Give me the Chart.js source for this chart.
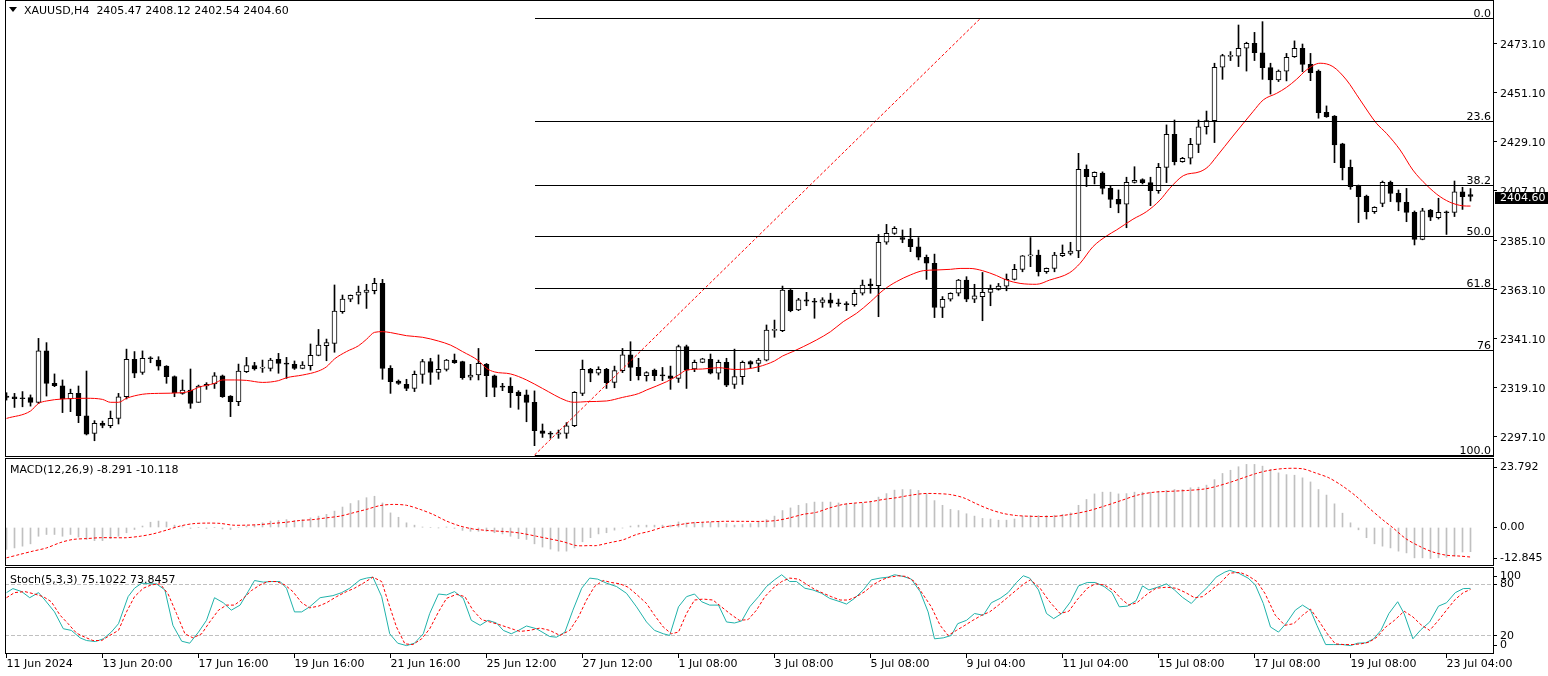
<!DOCTYPE html>
<html lang="en">
<head>
<meta charset="UTF-8">
<title>XAUUSD,H4</title>
<script src="https://cdn.jsdelivr.net/npm/chart.js"></script>
<style>
    body {
        margin: 0;
        background: #fff;
        font-family: "DejaVu Sans", sans-serif;
    }
    #wrap {
        position: relative;
        width: 1548px;
        height: 676px;
        overflow: hidden;
    }
    .pane {
        position: absolute;
        left: 5px;
    }
    .label {
        position: absolute;
        font-size: 11px;
        line-height: 13px;
        color: #000;
        white-space: pre;
    }
    #tri {
        position: absolute;
        left: 9px;
        top: 7px;
        width: 0;
        height: 0;
        border-left: 4px solid transparent;
        border-right: 4px solid transparent;
        border-top: 5px solid #000;
    }
</style>
</head>
<body>
<div id="wrap">
    <canvas id="priceCanvas" class="pane" width="1543" height="457" style="top:0px"></canvas>
    <canvas id="macdCanvas" class="pane" width="1543" height="108" style="top:458px"></canvas>
    <canvas id="stochCanvas" class="pane" width="1543" height="109" style="top:567px"></canvas>
    <div id="tri"></div>
    <div class="label" style="left:24px;top:4px">XAUUSD,H4  2405.47 2408.12 2402.54 2404.60</div>
    <div class="label" style="left:10px;top:463px">MACD(12,26,9) -8.291 -10.118</div>
    <div class="label" style="left:10px;top:573px">Stoch(5,3,3) 75.1022 73.8457</div>
</div>

<script>
// H4 candles (index 0 = first visible bar)
const opens = [
    2315.3, 2314.9, 2314.4, 2314.6, 2312.5, 2335.5, 2321.0, 2319.9, 2314.0, 2316.5,
    2306.5, 2298.6, 2303.1, 2302.0, 2305.3, 2315.0, 2331.7, 2325.9, 2332.2, 2331.4,
    2328.7, 2324.0, 2316.5, 2318.0, 2312.5, 2319.8, 2320.7, 2324.3, 2315.3, 2312.8,
    2326.2, 2328.9, 2327.8, 2327.7, 2331.7, 2329.9, 2329.5, 2327.7, 2328.9, 2333.5,
    2337.8, 2338.9, 2353.0, 2358.6, 2360.4, 2361.7, 2362.4, 2365.7, 2327.7, 2322.0,
    2320.5, 2318.7, 2325.0, 2330.7, 2325.9, 2327.2, 2331.4, 2330.7, 2323.7, 2324.7,
    2329.5, 2324.4, 2319.6, 2319.8, 2317.1, 2315.8, 2312.5, 2299.7, 2298.6, 2298.3,
    2298.6, 2302.0, 2316.5, 2327.2, 2325.5, 2327.2, 2321.4, 2326.7, 2333.7, 2328.1,
    2324.4, 2326.9, 2324.6, 2324.3, 2323.2, 2337.4, 2327.4, 2330.4, 2331.7, 2325.5,
    2330.4, 2320.5, 2324.0, 2330.7, 2329.9, 2331.4, 2344.7, 2344.5, 2362.7, 2353.8,
    2358.3, 2357.8, 2357.2, 2358.3, 2356.9, 2356.5, 2356.2, 2361.3, 2365.4, 2364.7,
    2384.1, 2388.1, 2386.2, 2385.5, 2382.1, 2377.4, 2374.7, 2355.0, 2358.6, 2361.3,
    2367.2, 2358.6, 2359.8, 2361.7, 2363.0, 2364.5, 2367.5, 2372.0, 2378.0, 2378.4,
    2370.9, 2372.4, 2378.1, 2379.1, 2380.2, 2416.7, 2413.5, 2415.0, 2408.2, 2403.3,
    2401.1, 2410.9, 2412.2, 2410.8, 2407.2, 2417.6, 2432.4, 2420.2, 2421.7, 2427.9,
    2435.8, 2438.5, 2462.4, 2467.3, 2467.4, 2470.9, 2473.1, 2468.9, 2462.2, 2456.7,
    2460.7, 2467.1, 2470.9, 2463.7, 2460.7, 2442.2, 2440.6, 2428.1, 2417.6, 2409.3,
    2404.8, 2397.8, 2401.5, 2410.9, 2406.0, 2402.0, 2397.5, 2385.4, 2398.5, 2395.1,
    2397.6, 2397.5, 2406.7, 2405.47
];
const highs = [
    2316.8, 2316.5, 2317.3, 2315.8, 2341.1, 2339.2, 2325.2, 2322.5, 2318.4, 2319.8,
    2326.5, 2304.3, 2304.1, 2308.6, 2316.5, 2336.3, 2335.2, 2335.5, 2332.9, 2332.9,
    2328.9, 2324.3, 2322.5, 2327.4, 2320.2, 2321.3, 2325.8, 2324.7, 2315.5, 2329.6,
    2332.6, 2330.4, 2331.4, 2332.2, 2334.4, 2332.6, 2331.0, 2330.7, 2338.6, 2345.1,
    2340.8, 2365.0, 2360.5, 2360.5, 2364.5, 2365.3, 2368.0, 2367.5, 2328.9, 2322.5,
    2322.8, 2326.5, 2331.7, 2332.2, 2333.7, 2331.7, 2334.1, 2330.9, 2329.5, 2336.6,
    2329.9, 2324.7, 2321.0, 2323.5, 2317.7, 2318.0, 2317.6, 2302.8, 2299.4, 2300.1,
    2303.4, 2317.3, 2331.4, 2327.7, 2328.4, 2327.7, 2328.7, 2336.6, 2339.6, 2332.2,
    2326.2, 2327.4, 2328.1, 2328.7, 2338.1, 2338.1, 2331.4, 2332.2, 2334.1, 2331.4,
    2332.2, 2336.3, 2331.0, 2331.1, 2332.2, 2347.1, 2349.3, 2364.5, 2363.0, 2359.0,
    2361.7, 2359.0, 2359.3, 2361.3, 2358.7, 2357.5, 2362.7, 2367.2, 2367.7, 2387.6,
    2392.1, 2391.1, 2389.6, 2390.3, 2386.2, 2378.4, 2378.8, 2359.8, 2361.5, 2367.5,
    2368.7, 2365.3, 2370.6, 2365.0, 2365.7, 2369.9, 2374.2, 2378.2, 2386.2, 2380.6,
    2372.6, 2379.6, 2382.9, 2384.1, 2423.9, 2418.7, 2415.6, 2415.6, 2409.4, 2407.5,
    2413.2, 2417.9, 2412.5, 2413.2, 2419.4, 2436.6, 2438.8, 2422.1, 2430.6, 2438.8,
    2442.8, 2464.2, 2468.2, 2469.4, 2481.3, 2473.6, 2478.0, 2482.8, 2464.2, 2461.2,
    2468.6, 2474.2, 2472.8, 2468.6, 2461.2, 2445.1, 2440.8, 2428.4, 2420.9, 2409.7,
    2405.2, 2400.0, 2411.5, 2411.5, 2407.5, 2408.2, 2398.1, 2399.3, 2398.8, 2403.8,
    2398.1, 2411.5, 2408.7, 2408.12
];
const lows = [
    2313.5, 2310.2, 2310.5, 2310.8, 2312.0, 2315.3, 2319.5, 2307.9, 2308.3, 2303.4,
    2297.9, 2295.3, 2301.1, 2301.1, 2302.8, 2314.0, 2323.5, 2325.0, 2330.2, 2326.9,
    2321.0, 2315.0, 2316.1, 2309.8, 2312.5, 2318.3, 2318.7, 2314.7, 2306.1, 2311.0,
    2325.8, 2326.9, 2325.9, 2326.5, 2325.5, 2323.2, 2327.2, 2327.5, 2326.9, 2333.3,
    2331.1, 2334.9, 2352.3, 2357.5, 2356.5, 2354.5, 2361.0, 2322.8, 2316.5, 2320.5,
    2317.7, 2317.3, 2321.0, 2320.5, 2322.8, 2326.5, 2329.9, 2322.8, 2322.5, 2322.5,
    2315.0, 2315.0, 2317.7, 2310.2, 2309.4, 2303.8, 2293.1, 2296.8, 2296.4, 2296.4,
    2296.4, 2301.6, 2315.5, 2321.7, 2324.7, 2318.7, 2319.0, 2325.8, 2322.2, 2322.5,
    2322.0, 2322.2, 2322.2, 2318.3, 2321.4, 2318.7, 2326.2, 2330.2, 2325.2, 2322.8,
    2319.5, 2318.7, 2320.5, 2328.0, 2326.2, 2331.0, 2341.6, 2344.1, 2353.0, 2353.5,
    2355.7, 2350.1, 2355.0, 2355.0, 2355.5, 2353.5, 2355.5, 2360.5, 2361.3, 2350.8,
    2383.2, 2387.6, 2383.9, 2379.9, 2376.2, 2367.5, 2350.4, 2350.4, 2357.8, 2360.1,
    2357.5, 2357.1, 2349.0, 2355.7, 2362.7, 2362.4, 2367.2, 2370.9, 2373.2, 2369.0,
    2370.2, 2370.9, 2377.7, 2378.4, 2377.2, 2409.0, 2410.2, 2405.7, 2399.6, 2397.3,
    2390.6, 2410.6, 2410.2, 2400.5, 2406.0, 2410.8, 2418.7, 2419.9, 2419.1, 2424.2,
    2432.5, 2428.7, 2457.0, 2465.4, 2462.7, 2460.7, 2465.4, 2457.0, 2450.4, 2456.0,
    2456.3, 2466.8, 2460.4, 2456.4, 2439.6, 2440.0, 2419.7, 2412.0, 2407.8, 2392.9,
    2394.5, 2397.0, 2400.0, 2402.3, 2398.2, 2393.3, 2382.9, 2385.2, 2393.8, 2394.5,
    2387.6, 2395.6, 2398.8, 2402.54
];
const closes = [
    2314.7, 2314.1, 2314.1, 2312.5, 2335.5, 2321.0, 2319.9, 2314.0, 2316.5, 2306.5,
    2298.3, 2303.1, 2302.2, 2305.3, 2315.0, 2331.7, 2325.5, 2332.2, 2332.0, 2328.7,
    2324.0, 2316.8, 2318.0, 2312.0, 2319.8, 2320.5, 2324.3, 2315.0, 2312.8, 2326.5,
    2328.9, 2327.4, 2328.0, 2331.4, 2329.9, 2329.6, 2327.7, 2329.2, 2333.5, 2338.1,
    2339.2, 2353.3, 2358.7, 2360.4, 2361.8, 2362.7, 2365.7, 2327.7, 2321.7, 2321.0,
    2318.7, 2325.0, 2330.7, 2325.9, 2327.2, 2331.4, 2330.2, 2323.5, 2324.7, 2329.9,
    2324.4, 2319.2, 2319.3, 2316.8, 2315.5, 2312.5, 2299.8, 2298.6, 2298.3, 2298.8,
    2302.0, 2317.0, 2327.2, 2325.5, 2327.2, 2321.3, 2326.7, 2333.7, 2328.1, 2324.4,
    2325.8, 2324.4, 2324.3, 2323.2, 2337.4, 2326.9, 2330.4, 2331.9, 2325.5, 2330.4,
    2320.2, 2324.0, 2330.4, 2329.6, 2331.4, 2344.8, 2345.0, 2362.7, 2353.5, 2358.3,
    2357.8, 2357.3, 2358.3, 2356.8, 2356.6, 2356.2, 2361.3, 2365.0, 2364.7, 2384.1,
    2388.1, 2390.3, 2385.4, 2382.1, 2377.4, 2374.7, 2355.0, 2358.6, 2361.3, 2367.2,
    2358.6, 2360.1, 2361.7, 2363.2, 2364.5, 2367.5, 2372.0, 2378.0, 2378.1, 2370.9,
    2372.4, 2378.4, 2379.1, 2380.2, 2416.7, 2413.5, 2415.4, 2408.2, 2403.3, 2401.1,
    2410.9, 2411.8, 2410.8, 2407.2, 2417.6, 2432.4, 2420.2, 2421.7, 2427.9, 2435.8,
    2438.5, 2462.4, 2467.6, 2467.6, 2470.9, 2473.1, 2468.9, 2462.2, 2456.7, 2460.7,
    2466.8, 2470.9, 2463.7, 2460.0, 2442.1, 2440.3, 2427.6, 2417.5, 2409.0, 2404.5,
    2397.8, 2399.7, 2410.9, 2406.0, 2402.0, 2397.5, 2385.4, 2398.2, 2395.3, 2397.5,
    2397.3, 2406.7, 2404.5, 2404.60
];

// red moving average, [bar index, price]
const maPoints = [
    [0, 2305.3], [3, 2308.6], [4, 2312.0], [5, 2313.1], [7, 2314.0], [10, 2314.3], [12, 2313.8],
    [13, 2312.5], [14, 2312.5], [15, 2314.3], [17, 2316.1], [19, 2316.5], [22, 2316.8], [23, 2317.6],
    [24, 2319.2], [26, 2321.0], [27, 2322.5], [28.5, 2322.5], [30, 2322.3], [32, 2321.4], [34, 2322.2],
    [35, 2323.5], [37, 2324.7], [39, 2326.5], [40, 2328.4], [41, 2331.9], [42.5, 2335.2], [44, 2337.8],
    [45, 2340.7], [46, 2343.8], [47, 2344.1], [48, 2343.7], [50, 2342.3], [52, 2341.6], [54, 2339.9],
    [55.5, 2338.1], [57, 2335.2], [59, 2331.1], [60, 2327.7], [61, 2326.1], [63, 2325.2], [65, 2322.5],
    [67, 2318.7], [70, 2313.2], [71, 2312.5], [72.5, 2312.8], [75, 2313.1], [77, 2314.7], [79, 2316.4],
    [80, 2318.0], [82.5, 2321.7], [84, 2324.7], [85, 2326.9], [87, 2327.4], [89, 2328.0], [91, 2327.2],
    [92.5, 2327.4], [94, 2328.4], [96, 2331.0], [97, 2333.2], [98.3, 2335.2], [99.6, 2337.4],
    [101.25, 2340.4], [103, 2344.1], [104.6, 2348.6], [106.25, 2352.3], [108, 2357.5], [109.6, 2362.7],
    [111.25, 2366.5], [113, 2369.5], [114.6, 2371.4], [116.25, 2371.7], [118, 2372.0], [119.2, 2372.4],
    [120.4, 2372.4], [122, 2371.4], [123.75, 2369.2], [125, 2367.2], [126.7, 2365.7], [128.75, 2365.3],
    [130.4, 2367.2], [132.9, 2370.5], [134.2, 2374.7], [135.8, 2382.1], [137.5, 2386.9], [138.75, 2389.6],
    [140.8, 2394.4], [142.5, 2397.8], [144.2, 2403.0], [145.4, 2408.2], [147.1, 2413.9], [149.2, 2415.7],
    [150.2, 2417.9], [151.25, 2422.4], [153.3, 2431.6], [154.6, 2437.3], [155.8, 2442.5], [157.1, 2447.8],
    [158.75, 2450.7], [160, 2453.4], [161.25, 2457.0], [162.5, 2461.2], [164.2, 2464.2], [165.8, 2462.7],
    [167.5, 2456.7], [169.2, 2447.8], [171.25, 2437.3], [172.5, 2432.8], [174.2, 2425.4], [175.8, 2416.4],
    [177.5, 2409.7], [179.2, 2404.5], [180.8, 2401.5], [182.5, 2400.3], [183, 2400.3]
];

// MACD(12,26,9): main as histogram (one per bar), signal as [bar index, value]
const macdHist = [
    -7.5, -7.0, -6.4, -5.6, -3.0, -2.4, -2.4, -3.0, -2.4, -3.3,
    -4.1, -4.5, -4.5, -3.8, -3.0, -1.8, -0.7, 0.5, 1.8, 2.2,
    1.9, 0.8, 0.3, -0.3, 0.0, -0.3, 0.0, -0.5, -0.7, 0.0,
    0.5, 0.8, 1.6, 2.2, 2.4, 2.7, 2.4, 2.7, 3.3, 3.9,
    4.5, 5.6, 7.0, 8.2, 9.2, 10.2, 10.7, 8.4, 5.0, 3.5,
    1.6, 0.8, 0.1, 0.0, -0.1, 0.1, -0.3, -1.0, -1.3, -1.3,
    -1.3, -1.8, -2.2, -3.0, -3.8, -4.1, -5.6, -6.7, -7.4, -8.1,
    -8.1, -7.0, -4.9, -3.5, -2.2, -1.8, -0.9, -0.2, 0.5, 0.8,
    0.8, 0.8, 0.8, 0.8, 1.9, 1.6, 1.8, 1.8, 1.8, 1.8,
    1.3, 0.8, 1.0, 1.3, 1.8, 2.7, 3.9, 5.8, 6.7, 7.6,
    8.2, 8.7, 8.7, 8.7, 8.4, 8.2, 8.4, 8.4, 9.0, 10.4,
    11.6, 12.8, 13.0, 13.0, 12.7, 11.6, 9.2, 7.6, 6.2, 5.8,
    4.7, 3.9, 3.1, 2.9, 2.5, 2.5, 2.9, 3.9, 4.1, 4.1,
    4.1, 4.2, 4.5, 5.0, 7.6, 9.6, 11.5, 12.1, 12.1, 11.5,
    11.6, 12.1, 12.1, 12.1, 12.4, 12.7, 13.0, 13.0, 13.6, 13.8,
    14.5, 16.4, 18.5, 19.6, 20.8, 21.6, 21.6, 21.0, 19.9, 18.7,
    18.1, 17.9, 17.0, 15.6, 13.0, 11.1, 8.1, 4.9, 1.6, -0.8,
    -3.5, -5.6, -6.4, -7.0, -8.1, -8.7, -10.4, -10.4, -10.6, -10.4,
    -10.2, -9.8, -8.4, -8.291
];
const macdSignal = [
    [0, -10.4], [1.7, -9.2], [3.3, -8.1], [5, -7.0], [6.7, -5.2], [8.3, -4.1], [10, -3.8], [11.7, -3.5],
    [13.3, -3.5], [15, -3.5], [16.7, -3.0], [18.3, -2.2], [20, -0.9], [21.7, 0.5], [23.3, 1.3], [25, 1.5],
    [26.7, 1.4], [28.3, 0.8], [30, 0.8], [31.7, 1.0], [33.3, 1.4], [35, 1.8], [36.7, 2.4], [38.3, 2.7],
    [40, 3.3], [41.7, 3.9], [43.3, 5.0], [45, 6.2], [46.7, 7.5], [48.3, 7.9], [50, 7.6], [51.7, 6.2],
    [53.3, 4.5], [55, 2.2], [56.7, 0.5], [58.3, -0.5], [60, -1.0], [61.7, -1.3], [63.3, -1.6], [64.6, -2.1],
    [66.25, -3.0], [67.9, -3.9], [69.6, -4.9], [71.25, -6.2], [72.9, -6.2], [73.75, -6.2], [75.4, -5.2],
    [77.1, -4.2], [78.75, -2.4], [80.4, -1.3], [82.1, 0.1], [83.75, 0.8], [85.4, 1.5], [87.1, 1.8],
    [89.6, 2.1], [92.1, 2.1], [94.6, 2.1], [96.25, 2.4], [97.9, 3.3], [99.6, 4.5], [101.25, 5.2],
    [102.9, 6.7], [104.6, 7.9], [106.25, 8.4], [107.9, 8.8], [109.6, 9.6], [111.25, 10.2], [112.9, 11.0],
    [114.6, 11.6], [116.25, 11.6], [117.9, 11.3], [119.6, 10.2], [121.25, 8.1], [122.9, 6.2], [124.6, 4.8],
    [126.25, 4.1], [128.4, 3.8], [130.9, 3.8], [133, 4.5], [135.1, 5.6], [137.2, 7.3], [139.3, 9.2],
    [141.4, 11.1], [143.5, 12.1], [145.6, 12.4], [147.7, 12.7], [149.8, 13.2], [151.4, 14.2], [153.1, 15.6],
    [154.8, 17.2], [156.1, 18.4], [157.7, 19.5], [159.8, 20.2], [162, 20.1], [163.6, 18.7], [165.3, 17.0],
    [167, 14.2], [168.7, 10.7], [170.3, 6.7], [172, 2.7], [173.3, -0.1], [174.9, -3.8], [176.6, -6.4],
    [178.3, -8.4], [180, -9.5], [181.7, -9.8], [183, -10.118]
];

// Stochastic(5,3,3), [bar index, value]
const stochMain = [
    [0, 70.2], [0.8, 74.9], [1.9, 71.4], [2.9, 64.3], [4, 70.2], [4.8, 61.6], [6, 47.8], [7.1, 28.2],
    [8.1, 26.3], [9.2, 17.6], [10, 14.5], [11.1, 13.3], [12.1, 16.5], [13.1, 24.3], [14, 34.1], [15.2, 65.5],
    [16, 75.3], [16.9, 81.2], [17.9, 80.4], [18.75, 80.4], [19.8, 73.3], [20.8, 32.2], [21.9, 13.7],
    [22.9, 11.4], [24, 24.3], [25, 38.0], [26, 64.3], [27.1, 58.4], [28.1, 49.8], [29.2, 55.7], [30.2, 71.4],
    [31, 84.3], [32.1, 82.4], [33.1, 83.1], [34.2, 83.1], [35, 75.3], [36, 47.8], [36.9, 47.8], [37.9, 53.7],
    [39.2, 64.3], [40.8, 66.7], [41.9, 70.2], [42.9, 75.3], [44.2, 85.1], [45, 87.1], [45.8, 88.2],
    [46.9, 65.5], [47.9, 22.4], [48.9, 11.4], [50, 8.6], [51, 11.4], [52.1, 22.4], [52.9, 45.9], [54, 68.6],
    [55, 67.5], [56, 71.4], [57.1, 63.5], [58.1, 38.0], [59.2, 32.2], [60.2, 38.0], [61.25, 34.9],
    [62.1, 26.3], [63.1, 22.4], [64, 26.3], [65, 31.4], [66.25, 28.2], [67.9, 19.2], [68.75, 18.4],
    [69.8, 24.3], [70.8, 49.8], [71.9, 75.3], [72.9, 87.1], [73.9, 85.9], [75, 81.2], [76.25, 77.3],
    [77.5, 69.4], [78.75, 53.7], [80, 36.1], [81, 26.3], [82.1, 22.4], [82.9, 20.4], [84, 53.7], [85, 65.5],
    [86, 68.6], [86.9, 59.6], [87.9, 55.7], [89, 55.7], [90, 36.1], [91, 34.9], [91.9, 37.3], [92.9, 53.7],
    [94, 65.5], [95, 77.3], [96, 85.1], [96.9, 91.0], [97.9, 83.1], [98.75, 83.1], [99.8, 75.3],
    [100.8, 73.3], [101.9, 69.4], [102.9, 63.5], [104.2, 59.6], [105, 56.9], [106, 63.5], [107.1, 73.3],
    [108.1, 85.1], [109.2, 87.1], [110.2, 88.2], [111, 91.0], [112.1, 89.0], [113.1, 85.9], [114.2, 71.4],
    [115.2, 47.8], [116, 16.5], [117.1, 17.6], [118.1, 20.4], [118.9, 34.1], [120, 38.0], [121, 45.9],
    [122.1, 43.9], [123.1, 58.4], [124.2, 63.5], [125.2, 70.2], [126.25, 82.0], [127.1, 89.8],
    [127.9, 87.1], [129, 73.3], [130, 45.9], [130.9, 40.0], [131.9, 45.9], [133, 59.6], [134, 78.0],
    [135.1, 82.0], [136.1, 82.0], [137.2, 77.3], [138.2, 70.2], [139.1, 53.7], [140.1, 54.5], [141.2, 60.8],
    [142, 78.0], [142.8, 73.3], [143.9, 76.5], [145, 80.4], [146, 73.3], [147, 64.7], [148.1, 57.6],
    [149.1, 67.5], [150.2, 77.3], [151.2, 88.2], [152.3, 94.1], [152.9, 96.1], [154, 92.9], [155.2, 87.1],
    [156.1, 79.2], [157.1, 57.6], [158, 30.2], [159, 24.3], [160, 34.9], [161.1, 49.8], [162, 55.7],
    [163, 49.8], [163.8, 32.2], [164.9, 9.8], [165.9, 9.8], [167, 9.8], [168, 8.6], [168.9, 11.4],
    [169.9, 11.8], [170.9, 16.5], [171.8, 26.3], [172.8, 45.9], [173.9, 59.6], [174.7, 45.9], [175.8, 16.5],
    [176.8, 27.1], [177.9, 36.1], [179, 54.5], [180, 58.4], [181.1, 70.2], [182.1, 74.9], [183, 75.1022]
];
const stochSignal = [
    [0, 64.3], [1, 70.2], [2.3, 71.4], [3.5, 68.6], [4.6, 65.5], [5.6, 59.6], [6.7, 43.9], [7.7, 34.1],
    [8.75, 23.1], [9.8, 18.4], [10.8, 14.5], [11.9, 14.5], [12.9, 20.4], [14, 26.3], [15, 47.8], [16, 65.5],
    [17.1, 75.3], [18.1, 79.2], [19.2, 80.4], [20.2, 68.6], [21.25, 45.9], [22.3, 22.4], [23.3, 17.6],
    [24.4, 22.4], [25.4, 36.1], [26.5, 49.8], [27.5, 55.7], [28.5, 55.7], [29.6, 63.5], [30.6, 72.5],
    [31.7, 79.2], [32.7, 83.1], [33.75, 83.1], [34.8, 79.2], [35.8, 71.4], [36.9, 58.4], [37.9, 52.5],
    [39, 54.5], [40, 58.4], [41.25, 65.5], [42.5, 71.4], [43.5, 75.3], [44.6, 81.2], [45.8, 88.2],
    [46.9, 83.1], [47.7, 59.6], [48.75, 30.2], [49.8, 10.6], [50.8, 9.8], [51.9, 16.5], [52.9, 28.2],
    [54, 47.8], [55, 63.5], [56.25, 68.2], [57.3, 65.5], [58.3, 49.8], [59.4, 38.8], [60.4, 36.1],
    [61.5, 33.3], [62.5, 30.2], [63.5, 27.1], [64.2, 25.1], [65.4, 26.3], [66.7, 29.0], [67.9, 26.3],
    [69.2, 20.4], [70.4, 26.3], [71.5, 42.0], [72.5, 61.6], [73.5, 77.3], [74.6, 84.3], [75.6, 82.0],
    [76.7, 80.4], [77.7, 76.5], [78.75, 68.2], [80, 57.6], [81, 43.9], [82.1, 30.2], [83.1, 22.4],
    [84, 24.3], [85, 45.9], [86, 61.6], [87.1, 62.7], [88.3, 61.6], [89.1, 55.7], [90.4, 45.9], [91.6, 38.0],
    [92.7, 38.8], [93.75, 49.8], [94.8, 65.5], [95.8, 75.3], [96.9, 83.1], [97.9, 87.1], [99, 85.9],
    [100, 80.0], [101, 74.1], [102.1, 69.4], [103.1, 65.5], [104.2, 61.6], [105.2, 61.6], [106.25, 65.5],
    [107.3, 71.4], [108.3, 79.2], [109.4, 85.1], [110.4, 88.2], [111.5, 89.8], [112.5, 89.0], [113.5, 83.1],
    [114.6, 67.5], [115.6, 53.7], [116.7, 32.2], [117.7, 20.4], [118.75, 26.3], [119.8, 32.2], [120.8, 38.0],
    [121.9, 43.9], [122.9, 47.8], [124, 55.7], [125, 63.5], [126.25, 73.3], [127.3, 81.2], [128, 85.1],
    [129.2, 75.3], [130.4, 59.6], [131.7, 45.9], [132.8, 48.6], [133.8, 61.6], [135.1, 75.3], [136.1, 80.4],
    [137.2, 79.2], [138.4, 72.5], [139.4, 62.4], [140.3, 55.7], [141.3, 58.4], [142.6, 68.6], [143.7, 75.3],
    [145, 76.5], [146.2, 75.3], [147.4, 70.2], [148.5, 64.3], [149.5, 65.5], [150.6, 73.3], [151.9, 83.1],
    [152.9, 92.9], [154.2, 93.7], [155.2, 89.8], [156.3, 83.1], [157.3, 69.4], [158.6, 43.9], [159.8, 32.2],
    [160.9, 34.1], [162, 43.9], [163, 51.0], [164, 38.0], [165.1, 22.4], [166.1, 10.6], [167.2, 9.8],
    [168.2, 9.8], [169.3, 10.6], [170.3, 12.5], [171.3, 18.4], [172.4, 30.2], [173.5, 38.0], [174.7, 48.6],
    [175.8, 42.0], [176.8, 32.9], [177.9, 26.3], [179, 38.0], [180, 49.8], [181.1, 62.4], [182.1, 70.2],
    [183, 73.8457]
];
const stochLevels = [80, 20];

// axes
const priceTicks = [2297.10, 2319.10, 2341.10, 2363.10, 2385.10, 2407.10, 2429.10, 2451.10, 2473.10];
const macdTickLabels = ['23.792', '0.00', '-12.845'];
const stochTickLabels = ['100', '80', '20', '0'];
const timeTickIdx = [0, 12, 24, 36, 48, 60, 72, 84, 96, 108, 120, 132, 144, 156, 168, 180];
const timeLabels = ['11 Jun 2024', '13 Jun 20:00', '17 Jun 16:00', '19 Jun 16:00', '21 Jun 16:00',
    '25 Jun 12:00', '27 Jun 12:00', '1 Jul 08:00', '3 Jul 08:00', '5 Jul 08:00', '9 Jul 04:00',
    '11 Jul 04:00', '15 Jul 08:00', '17 Jul 08:00', '19 Jul 08:00', '23 Jul 04:00'];

// Fibonacci retracement drawn on the chart
const fibLevels = [0, 23.6, 38.2, 50, 61.8, 76, 100];
const fibLabels = ['0.0', '23.6', '38.2', '50.0', '61.8', '76', '100.0'];
const fibHigh = 2484.3, fibLow = 2288.9;
const fibFrom = 66, fibTo = 121.75;

Chart.defaults.font.family = '"DejaVu Sans", sans-serif';
Chart.defaults.font.size = 11;
Chart.defaults.color = '#000';

const xRange = { min: -0.1875, max: 185.8125 };   // 8px per bar
const xHidden = { type: 'linear', display: false, offset: false, grid: { offset: false }, ...xRange };
const pts = arr => arr.map(p => ({ x: p[0], y: p[1] }));

// thin black frame around each pane
const frame = {
    id: 'frame',
    afterDraw(chart) {
        const { ctx, chartArea: a } = chart;
        ctx.save();
        ctx.strokeStyle = '#000';
        ctx.lineWidth = 1;
        ctx.strokeRect(a.left + 0.5, a.top + 0.5, a.right - a.left, a.bottom - a.top);
        ctx.restore();
    }
};

function rightAxis(extra) {
    return Object.assign({
        position: 'right',
        afterFit: s => { s.width = 55; s.paddingTop = 0; s.paddingBottom = 0; },
        grid: { drawOnChartArea: false, tickLength: 4, color: '#000' },
        border: { display: false }
    }, extra);
}

// ---------- price pane ----------
const fibPlugin = {
    id: 'fib',
    afterDatasetsDraw(chart) {
        const { ctx, chartArea: a, scales: { x, y } } = chart;
        const x0 = Math.round(x.getPixelForValue(fibFrom));
        ctx.save();
        ctx.strokeStyle = '#000';
        ctx.lineWidth = 1;
        ctx.fillStyle = '#000';
        ctx.font = '11px "DejaVu Sans"';
        ctx.textAlign = 'right';
        ctx.textBaseline = 'alphabetic';
        fibLevels.forEach((lv, k) => {
            const p = fibHigh - (fibHigh - fibLow) * lv / 100;
            const py = Math.floor(y.getPixelForValue(p)) + 0.5;
            ctx.beginPath();
            ctx.moveTo(x0, py);
            ctx.lineTo(a.right, py);
            ctx.stroke();
            ctx.fillText(fibLabels[k], a.right - 2, py - 2);
        });
        ctx.restore();
    },
    afterDraw(chart) {
        // last price marker on the axis
        const { ctx, chartArea: a, scales: { y } } = chart;
        const last = closes[closes.length - 1];
        const py = Math.round(y.getPixelForValue(last));
        ctx.save();
        ctx.fillStyle = '#000';
        ctx.fillRect(a.right + 2, py - 4, 55, 12);
        ctx.fillStyle = '#fff';
        ctx.font = '11px "DejaVu Sans"';
        ctx.textAlign = 'left';
        ctx.textBaseline = 'middle';
        ctx.fillText(last.toFixed(2), a.right + 7, py + 2);
        ctx.restore();
    }
};

const idx = closes.map((c, i) => i);
new Chart(document.getElementById('priceCanvas'), {
    type: 'bar',
    data: {
        datasets: [
            {
                label: 'wick',
                data: idx.map(i => ({ x: i, y: [lows[i], highs[i]] })),
                backgroundColor: '#000',
                borderWidth: 0,
                barThickness: 1,
                grouped: false,
                order: 3
            },
            {
                label: 'body',
                data: idx.map(i => ({ x: i, y: [opens[i], closes[i]] })),
                backgroundColor: idx.map(i => closes[i] > opens[i] ? '#fff' : '#000'),
                borderColor: '#000',
                borderWidth: 1,
                borderSkipped: false,
                barThickness: 5,
                minBarLength: 1,
                grouped: false,
                order: 2
            },
            {
                type: 'line',
                label: 'MA',
                data: pts(maPoints),
                borderColor: '#ff0000',
                borderWidth: 1,
                pointRadius: 0,
                cubicInterpolationMode: 'monotone',
                order: 1
            },
            {
                type: 'line',
                label: 'fib trend',
                data: [{ x: fibFrom, y: fibLow }, { x: fibTo, y: fibHigh }],
                borderColor: '#ff0000',
                borderWidth: 1,
                borderDash: [3, 2],
                pointRadius: 0,
                order: 0
            }
        ]
    },
    options: {
        responsive: false,
        animation: false,
        layout: { padding: { top: 0, left: 0, right: 0, bottom: 1 } },
        plugins: { legend: { display: false }, tooltip: { enabled: false } },
        scales: {
            x: xHidden,
            y: rightAxis({
                min: 2288.48,
                max: 2492.49,
                afterBuildTicks: s => { s.ticks = priceTicks.map(v => ({ value: v })); },
                ticks: { callback: v => v.toFixed(2), padding: 3, labelOffset: 1.7, autoSkip: false }
            })
        }
    },
    plugins: [fibPlugin, frame]
});

// ---------- MACD pane ----------
new Chart(document.getElementById('macdCanvas'), {
    type: 'bar',
    data: {
        datasets: [
            {
                label: 'MACD',
                data: macdHist.map((v, i) => ({ x: i, y: v })),
                backgroundColor: '#c0c0c0',
                borderWidth: 0,
                barThickness: 1,
                grouped: false,
                order: 2
            },
            {
                type: 'line',
                label: 'Signal',
                data: pts(macdSignal),
                borderColor: '#ff0000',
                borderWidth: 1,
                borderDash: [3, 2],
                pointRadius: 0,
                tension: 0.3,
                order: 1
            }
        ]
    },
    options: {
        responsive: false,
        animation: false,
        layout: { padding: { top: 0, left: 0, right: 0, bottom: 1 } },
        plugins: { legend: { display: false }, tooltip: { enabled: false } },
        scales: {
            x: xHidden,
            y: rightAxis({
                min: -12.845,
                max: 23.792,
                afterBuildTicks: s => {
                    const pxU = s.height / (s.max - s.min);
                    s.ticks = [{ value: s.max - 9 / pxU }, { value: 0 }, { value: s.min + 7 / pxU }];
                },
                ticks: { callback: (v, i) => macdTickLabels[i], padding: 3, autoSkip: false }
            })
        }
    },
    plugins: [frame]
});

// ---------- Stochastic pane ----------
const levelPlugin = {
    id: 'levels',
    beforeDatasetsDraw(chart) {
        const { ctx, chartArea: a, scales: { y } } = chart;
        ctx.save();
        ctx.strokeStyle = '#c0c0c0';
        ctx.lineWidth = 1;
        ctx.setLineDash([4, 2]);
        stochLevels.forEach(v => {
            const py = Math.floor(y.getPixelForValue(v)) + 0.5;
            ctx.beginPath();
            ctx.moveTo(a.left, py);
            ctx.lineTo(a.right, py);
            ctx.stroke();
        });
        ctx.restore();
    }
};

new Chart(document.getElementById('stochCanvas'), {
    type: 'line',
    data: {
        datasets: [
            {
                label: 'Main',
                data: pts(stochMain),
                borderColor: '#20b2aa',
                borderWidth: 1,
                pointRadius: 0,
                order: 2
            },
            {
                label: 'Signal',
                data: pts(stochSignal),
                borderColor: '#ff0000',
                borderWidth: 1,
                borderDash: [3, 2],
                pointRadius: 0,
                order: 1
            }
        ]
    },
    options: {
        responsive: false,
        animation: false,
        layout: { padding: 0 },
        plugins: { legend: { display: false }, tooltip: { enabled: false } },
        scales: {
            x: {
                type: 'linear',
                ...xRange,
                offset: false,
                afterBuildTicks: s => { s.ticks = timeTickIdx.map(v => ({ value: v })); },
                afterFit: s => { s.height = 23; s.paddingLeft = 0; s.paddingRight = 0; },
                ticks: {
                    callback: v => timeLabels[timeTickIdx.indexOf(v)],
                    align: 'start',
                    autoSkip: false,
                    maxRotation: 0,
                    minRotation: 0,
                    padding: 0
                },
                grid: { drawOnChartArea: false, tickLength: 5, color: '#000', offset: false },
                border: { display: false }
            },
            y: rightAxis({
                min: 0,
                max: 100,
                afterBuildTicks: s => {
                    const pxU = s.height / (s.max - s.min);
                    s.ticks = [{ value: 100 - 9 / pxU }, { value: 80 }, { value: 20 }, { value: 8 / pxU }];
                },
                ticks: { callback: (v, i) => stochTickLabels[i], padding: 3, autoSkip: false }
            })
        }
    },
    plugins: [levelPlugin, frame]
});
</script>
</body>
</html>
